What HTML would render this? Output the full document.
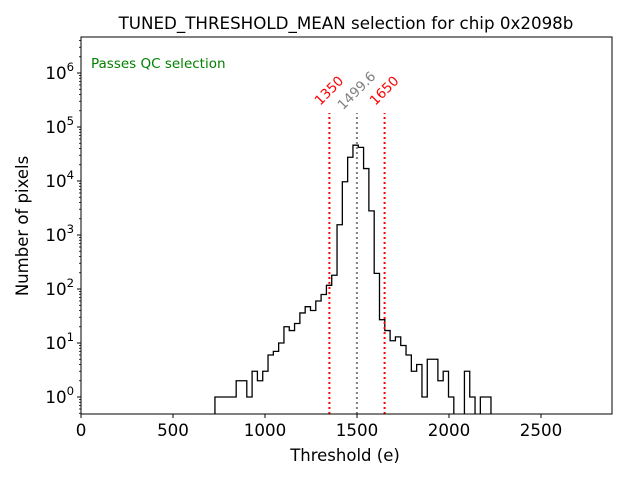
<!DOCTYPE html>
<html><head><meta charset="utf-8"><style>
body{margin:0;background:#fff}
svg{display:block;font-family:"DejaVu Sans","Liberation Sans",sans-serif}
</style></head><body>
<svg id="chart" width="640" height="480" viewBox="0 0 640 480">
<defs><clipPath id="plotclip"><rect x="81" y="37" width="531" height="377"/></clipPath></defs>
<rect width="640" height="480" fill="#fff"/>
<text x="346" y="29" text-anchor="middle" font-size="16.7">TUNED_THRESHOLD_MEAN selection for chip 0x2098b</text>
<text x="91" y="68" font-size="13.5" fill="green">Passes QC selection</text>
<g id="xticks"></g>
<g id="yticks"></g>
<g id="marks" clip-path="url(#plotclip)"></g>
<g id="vlines"></g>
<rect x="81" y="37" width="531" height="377" fill="none" stroke="#000" stroke-width="1"/>
<text x="345" y="461" text-anchor="middle" font-size="16.5">Threshold (e)</text>
<text transform="translate(28,226) rotate(-90)" text-anchor="middle" font-size="16.5">Number of pixels</text>
</svg>
<script>
const binStart = 728;
const binWidth = 28.85;
const counts = [1,1,1,1,2,2,1,3,2,3,6,7,10,20,17,23,36,47,40,60,79,117,180,1550,9700,27500,46000,42000,17000,2800,195,27,17,11,13,9,6,3,4,1,5,5,2,3,1,0,0,3,1,0,1,1];
const xTicks = [0,500,1000,1500,2000,2500];
const yTickExps = [0,1,2,3,4,5,6];
const cutValues = [1350,1650];
const meanValue = 1499.6;
const meanLabel = "1499.6";

const NS = "http://www.w3.org/2000/svg";
const X0 = 81, X1 = 612, Y0 = 414, Y1 = 37;
const xMin = 0, xMax = 2886;
function xs(v){ return X0 + (v - xMin) / (xMax - xMin) * (X1 - X0); }
function ys(v){ return 397 - 54 * Math.log10(v); }
function mk(tag, attrs, parent){ const e = document.createElementNS(NS, tag); for (const k in attrs) e.setAttribute(k, attrs[k]); parent.appendChild(e); return e; }

const marks = document.getElementById('marks');
let d = "";
const yBottom = Y0 + 5;
counts.forEach((c, i) => {
  const xa = xs(binStart + i * binWidth), xb = xs(binStart + (i + 1) * binWidth);
  const y = c > 0 ? ys(c) : yBottom;
  if (i === 0) d += `M${xa},${yBottom}`;
  d += `L${xa},${y}L${xb},${y}`;
});
d += `L${xs(binStart + counts.length * binWidth)},${yBottom}`;
const hist = mk('path', {d: d, fill: 'none', stroke: '#000', 'stroke-width': 1.3}, marks);



const xg = document.getElementById('xticks');
xTicks.forEach(t => {
  const x = xs(t);
  const l = mk('line', {x1: x, x2: x, y1: Y0, y2: Y0 + 4, stroke: '#000'}, xg);
  
  
  const tx = mk('text', {x: x, y: Y0 + 22, 'text-anchor': 'middle', 'font-size': 16.7}, xg);
  tx.textContent = String(t);
  
  
});

const yg = document.getElementById('yticks');
yTickExps.forEach(e => {
  const y = ys(Math.pow(10, e));
  const l = mk('line', {x1: X0 - 4, x2: X0, y1: y, y2: y, stroke: '#000'}, yg);
  
  
  const tx = mk('text', {x: X0 - 7, y: y + 6, 'text-anchor': 'end', 'font-size': 16.7}, yg);
  tx.innerHTML = `10<tspan dy="-8" font-size="11.7">${e}</tspan>`;
  
  
});
for (let e = -1; e <= 6; e++) {
  for (let m = 2; m <= 9; m++) {
    const y = ys(m * Math.pow(10, e));
    if (y < Y1 || y > Y0) continue;
    const l = mk('line', {x1: X0 - 2, x2: X0, y1: y, y2: y, stroke: '#000', 'stroke-width': 0.8}, yg);
    
    
  }
}

const vg = document.getElementById('vlines');
function vline(v, color, label, name){
  const x = xs(v);
  const l = mk('line', {x1: x, x2: x, y1: Y0, y2: 113, stroke: color, 'stroke-width': 2, 'stroke-dasharray': '2,3'}, vg);
  
  
  const t = mk('text', {x: x, y: 91, 'text-anchor': 'middle', 'dominant-baseline': 'central', 'font-size': 13.5, fill: color, transform: `rotate(-45 ${x} 91)`}, vg);
  t.textContent = label;
  
  
}
vline(cutValues[0], 'red', String(cutValues[0]), 'lower-cut');
vline(meanValue, 'gray', meanLabel, 'mean');
vline(cutValues[1], 'red', String(cutValues[1]), 'upper-cut');
</script>
</body></html>
